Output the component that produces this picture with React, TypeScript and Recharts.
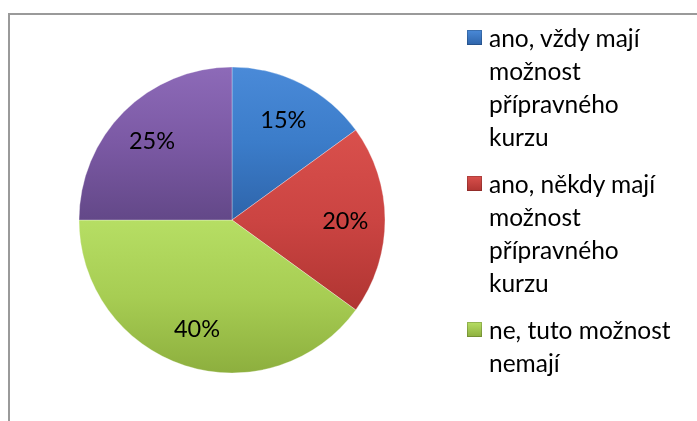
import React from 'react';
import { PieChart, Pie, Cell, Legend } from 'recharts';

const categories = [
  'ano, vždy mají možnost přípravného kurzu',
  'ano, někdy mají možnost přípravného kurzu',
  'ne, tuto možnost nemají',
  'nevím',
];
const values = [15, 20, 40, 25];
// legend entries visible in the reference (the 4th is cut off there)
const legendCategories = categories.slice(0, 3);
const topColors = ['#4a8ad8', '#d9504c', '#b6de64', '#8d6ab8'];
const baseColors = ['#3b7cc9', '#cb4442', '#a7cd53', '#7b59a4'];
const bottomColors = ['#2e64aa', '#b03532', '#8daf3e', '#634888'];

const data = categories.map((name, i) => ({ name, value: values[i] }));

const FONT = 'Lato, "Open Sans", sans-serif';

const renderLabel = (props: any) => {
  const { cx, cy, midAngle, outerRadius, percent } = props;
  const RAD = Math.PI / 180;
  const r = outerRadius * 0.74;
  const x = cx + r * Math.cos(-midAngle * RAD);
  const y = cy + r * Math.sin(-midAngle * RAD);
  return (
    <text
      x={x}
      y={y}
      fill="#000"
      textAnchor="middle"
      dominantBaseline="central"
      fontFamily={FONT}
      fontSize={23.5}
    >
      {`${Math.round(percent * 100)}%`}
    </text>
  );
};

const renderLegend = (props: any) => {
  const payload = (props.payload || []).filter((e: any) => legendCategories.includes(e.value));
  return (
    <div style={{ fontFamily: FONT, fontSize: 24.5, color: '#000' }}>
      {payload.map((entry: any, k: number) => {
        const i = categories.indexOf(entry.value);
        return (
          <div key={k} style={{ display: 'flex', alignItems: 'flex-start', marginBottom: 14 }}>
            <div
              style={{
                width: 15,
                height: 15,
                marginTop: 9,
                marginRight: 7,
                flex: '0 0 auto',
                background: `linear-gradient(to bottom, ${topColors[i]}, ${bottomColors[i]})`,
                boxShadow: 'inset 0 0 0 1px rgba(0,0,0,0.18)',
              }}
            />
            <div style={{ lineHeight: '33px', width: 192 }}>{entry.value}</div>
          </div>
        );
      })}
    </div>
  );
};

export default function App() {
  return (
    <div style={{ position: 'relative', width: 681, height: 405 }}>
      <div
        style={{
          position: 'fixed',
          left: 8,
          top: 13,
          width: 700,
          height: 420,
          borderLeft: '2px solid #9a9a9a',
          borderTop: '2px solid #9a9a9a',
          pointerEvents: 'none',
        }}
      />
      <div style={{ position: 'absolute', left: 0, top: 0 }}>
        <PieChart width={681} height={405} margin={{ top: 0, right: 0, bottom: 0, left: 0 }}>
          <defs>
            {values.map((_, i) => (
              <linearGradient key={i} id={`g${i}`} x1="0" y1="0" x2="0" y2="1">
                <stop offset="0%" stopColor={topColors[i]} />
                <stop offset="50%" stopColor={baseColors[i]} />
                <stop offset="100%" stopColor={bottomColors[i]} />
              </linearGradient>
            ))}
          </defs>
          <Pie
            data={data}
            dataKey="value"
            nameKey="name"
            cx={224}
            cy={212}
            outerRadius={153}
            startAngle={90}
            endAngle={-270}
            label={renderLabel}
            labelLine={false}
            isAnimationActive={false}
            stroke="rgba(255,255,255,0.3)"
            strokeWidth={1}
          >
            {data.map((_, i) => (
              <Cell key={i} fill={`url(#g${i})`} />
            ))}
          </Pie>
          <Legend
            content={renderLegend}
            itemSorter={null as any}
            layout="vertical"
            align="right"
            verticalAlign="top"
            wrapperStyle={{ position: 'absolute', top: 13, left: 459, width: 222, height: 372 }}
          />
        </PieChart>
      </div>
    </div>
  );
}
